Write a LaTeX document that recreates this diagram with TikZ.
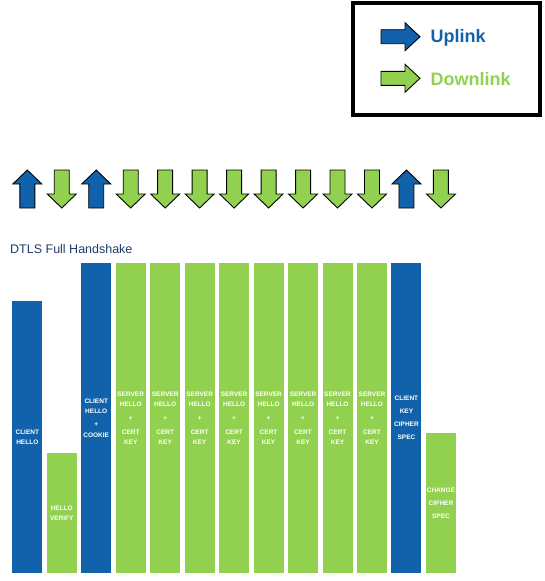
\documentclass[tikz,border=0pt]{standalone}
\usepackage{fontspec}
\setmainfont{Liberation Sans}
\definecolor{upblue}{HTML}{1162AB}
\definecolor{dngreen}{HTML}{92D050}
\definecolor{titlenavy}{HTML}{1F3A68}
\tikzset{
  bar/.style={minimum width=30pt, inner sep=0pt, outer sep=0pt, text=white,
    font=\bfseries\fontsize{6.5}{10}\selectfont, align=center, anchor=south},
  widebar/.style={bar, font=\bfseries\fontsize{6.5}{13}\selectfont},
  arr/.style={draw=black, line width=0.9pt, line join=miter},
  legendtext/.style={inner sep=0pt, anchor=base west, font=\bfseries\fontsize{18}{20}\selectfont}
}
\newcommand\UpArrow[1]{\draw[arr, fill=upblue] ({#1-7.5},208) -- ({#1-7.5},184) -- ({#1-14.5},184) -- (#1,170) -- ({#1+14.5},184) -- ({#1+7.5},184) -- ({#1+7.5},208) -- cycle;}
\newcommand\DnArrow[1]{\draw[arr, fill=dngreen] ({#1-7.5},170) -- ({#1-7.5},194) -- ({#1-14.5},194) -- (#1,208) -- ({#1+14.5},194) -- ({#1+7.5},194) -- ({#1+7.5},170) -- cycle;}
\begin{document}
\begin{tikzpicture}[x=1pt,y=-1pt]
\useasboundingbox (0,0) rectangle (545,581);
% legend
\draw[line width=3.6pt] (352.8,2.8) rectangle (539.7,114.7);
\draw[arr, fill=upblue] (381,29.7) -- (405,29.7) -- (405,22.7) -- (420,36.7) -- (405,50.7) -- (405,43.7) -- (381,43.7) -- cycle;
\draw[arr, fill=dngreen] (381,71.3) -- (405,71.3) -- (405,64.3) -- (420,78.3) -- (405,92.3) -- (405,85.3) -- (381,85.3) -- cycle;
\node[legendtext, text=upblue] (lup) at (430.5,42.6) {Uplink};
\node[legendtext, text=dngreen] (ldn) at (430.5,85) {Downlink};
% direction arrows
\foreach \i/\d in {0/u,1/d,2/u,3/d,4/d,5/d,6/d,7/d,8/d,9/d,10/d,11/u,12/d}{
  \pgfmathsetmacro\cx{27.3+34.47*\i}
  \if\d u\UpArrow{\cx}\else\DnArrow{\cx}\fi
}
% title
\node[inner sep=0pt, anchor=base west, text=titlenavy, font=\fontsize{12.5}{14}\selectfont] (title) at (10,253.3) {DTLS Full Handshake};
% bars
\node[bar, fill=upblue, minimum height=272pt] (b1) at (27.3,573) {CLIENT\\HELLO};
\node[bar, fill=dngreen, minimum height=120pt] (b2) at (61.77,573) {HELLO\\VERIFY};
\node[bar, fill=upblue, minimum height=310pt] (b3) at (96.24,573) {CLIENT\\HELLO\\[3.7pt]+\\[0.3pt]COOKIE};
\foreach \i in {3,...,10}{
  \pgfmathsetmacro\cx{27.3+34.47*\i}
  \node[bar, fill=dngreen, minimum height=310pt] (b\i) at (\cx,573) {SERVER\\HELLO\\[4pt]+\\[3.5pt]CERT\\KEY};
}
\node[widebar, fill=upblue, minimum height=310pt] (b12) at (406.47,573) {CLIENT\\KEY\\CIPHER\\SPEC};
\node[widebar, fill=dngreen, minimum height=140pt] (b13) at (440.94,573) {CHANGE\\CIPHER\\SPEC};
\end{tikzpicture}
\end{document}
